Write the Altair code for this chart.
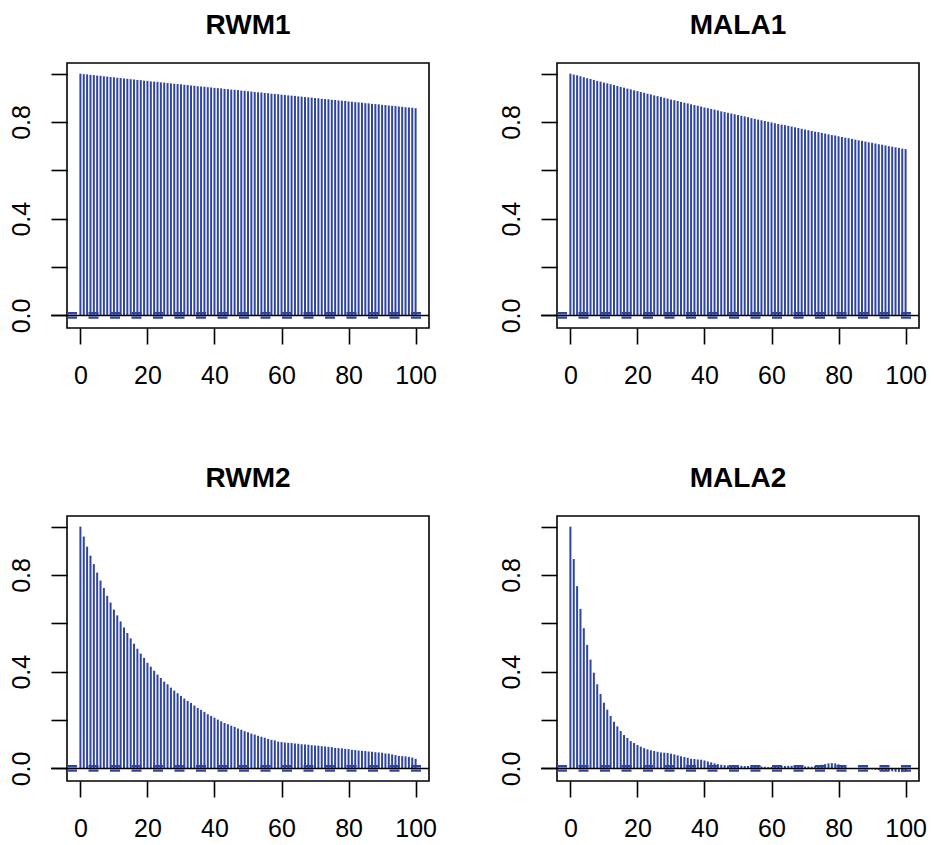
import altair as alt
import pandas as pd

# ---------------- data ----------------
lags = list(range(101))

rwm1 = [1.000, 0.998, 0.997, 0.995, 0.994, 0.992, 0.991, 0.989, 0.988, 0.986,
        0.985, 0.983, 0.982, 0.980, 0.979, 0.977, 0.976, 0.974, 0.973, 0.971,
        0.970, 0.968, 0.967, 0.966, 0.964, 0.963, 0.961, 0.960, 0.958, 0.957,
        0.956, 0.954, 0.953, 0.951, 0.950, 0.948, 0.947, 0.946, 0.944, 0.943,
        0.941, 0.940, 0.939, 0.937, 0.936, 0.934, 0.933, 0.932, 0.930, 0.929,
        0.927, 0.926, 0.924, 0.923, 0.922, 0.920, 0.919, 0.917, 0.916, 0.915,
        0.913, 0.912, 0.910, 0.909, 0.908, 0.906, 0.905, 0.903, 0.902, 0.901,
        0.899, 0.898, 0.896, 0.895, 0.894, 0.892, 0.891, 0.889, 0.888, 0.887,
        0.885, 0.884, 0.882, 0.881, 0.880, 0.878, 0.877, 0.875, 0.874, 0.873,
        0.871, 0.870, 0.868, 0.867, 0.866, 0.864, 0.863, 0.861, 0.860, 0.859,
        0.857]

mala1 = [1.000, 0.996, 0.993, 0.989, 0.985, 0.981, 0.978, 0.974, 0.970, 0.967,
         0.963, 0.960, 0.956, 0.953, 0.949, 0.945, 0.942, 0.938, 0.935, 0.931,
         0.928, 0.924, 0.921, 0.917, 0.914, 0.910, 0.907, 0.904, 0.900, 0.897,
         0.893, 0.890, 0.887, 0.883, 0.880, 0.877, 0.873, 0.870, 0.867, 0.864,
         0.860, 0.857, 0.854, 0.851, 0.848, 0.844, 0.841, 0.838, 0.835, 0.832,
         0.829, 0.826, 0.823, 0.820, 0.816, 0.813, 0.810, 0.807, 0.804, 0.801,
         0.798, 0.795, 0.792, 0.789, 0.787, 0.784, 0.781, 0.778, 0.775, 0.772,
         0.769, 0.766, 0.763, 0.760, 0.758, 0.755, 0.752, 0.749, 0.746, 0.744,
         0.741, 0.738, 0.735, 0.733, 0.730, 0.727, 0.724, 0.722, 0.719, 0.716,
         0.714, 0.711, 0.708, 0.706, 0.703, 0.700, 0.698, 0.695, 0.693, 0.690,
         0.688]

rwm2 = [1.000, 0.959, 0.917, 0.880, 0.845, 0.810, 0.777, 0.746, 0.714, 0.686,
        0.657, 0.633, 0.608, 0.583, 0.560, 0.538, 0.516, 0.495, 0.475, 0.457,
        0.437, 0.421, 0.404, 0.388, 0.374, 0.359, 0.348, 0.334, 0.322, 0.311,
        0.300, 0.289, 0.279, 0.271, 0.260, 0.250, 0.242, 0.234, 0.224, 0.217,
        0.210, 0.202, 0.195, 0.188, 0.183, 0.177, 0.172, 0.165, 0.160, 0.154,
        0.150, 0.144, 0.140, 0.135, 0.131, 0.127, 0.122, 0.118, 0.116, 0.111,
        0.109, 0.107, 0.106, 0.105, 0.103, 0.102, 0.100, 0.099, 0.098, 0.096,
        0.095, 0.094, 0.092, 0.091, 0.089, 0.088, 0.085, 0.084, 0.083, 0.081,
        0.080, 0.077, 0.076, 0.074, 0.073, 0.072, 0.070, 0.069, 0.067, 0.066,
        0.065, 0.062, 0.061, 0.058, 0.055, 0.052, 0.051, 0.050, 0.048, 0.045,
        0.040]

mala2 = [1.000, 0.866, 0.754, 0.660, 0.580, 0.511, 0.450, 0.396, 0.348, 0.308,
         0.272, 0.243, 0.217, 0.193, 0.174, 0.155, 0.138, 0.126, 0.113, 0.105,
         0.097, 0.090, 0.084, 0.079, 0.075, 0.072, 0.069, 0.066, 0.065, 0.064,
         0.061, 0.058, 0.054, 0.050, 0.047, 0.044, 0.040, 0.039, 0.037, 0.036,
         0.033, 0.029, 0.025, 0.021, 0.018, 0.015, 0.014, 0.012, 0.012, 0.014,
         0.012, 0.011, 0.010, 0.010, 0.011, 0.011, 0.010, 0.008, 0.007, 0.006,
         0.006, 0.007, 0.008, 0.010, 0.010, 0.011, 0.011, 0.011, 0.010, 0.010,
         0.008, 0.008, 0.007, 0.010, 0.012, 0.015, 0.018, 0.021, 0.022, 0.021,
         0.017, 0.011, 0.006, 0.001, 0.000, -0.001, -0.003, -0.003, -0.004, -0.004,
         -0.004, -0.006, -0.007, -0.007, -0.008, -0.009, -0.012, -0.014, -0.015, -0.015,
         -0.014]

titles = ["RWM1", "MALA1", "RWM2", "MALA2"]
ci_bound = 0.009
x_ticks = [0, 20, 40, 60, 80, 100]
y_ticks = [0.0, 0.2, 0.4, 0.6, 0.8, 1.0]

# ---------------- styling ----------------
W, H = 362, 265
BLUE = "#2F45A0"
FONT = "Liberation Sans"


def panel(title, vals):
    df = pd.DataFrame({"lag": lags, "acf": vals})
    xs = alt.Scale(domain=[-4, 104], nice=False, zero=False)
    ys = alt.Scale(domain=[-0.052, 1.044], nice=False, zero=False)
    xax = alt.Axis(values=x_ticks, title=None, grid=False, domain=False,
                   tickSize=16, labelPadding=19, labelFlush=False,
                   labelOverlap=False)
    yax = alt.Axis(values=y_ticks, title=None, grid=False, domain=False,
                   tickSize=16, labelAngle=270, labelAlign="center",
                   labelBaseline="alphabetic", labelPadding=22,
                   labelFlush=False, labelOverlap=False,
                   labelExpr="(round(datum.value*10) % 4 == 0) ? format(datum.value, '.1f') : ''")

    bars = alt.Chart(df).mark_rule(color=BLUE, strokeWidth=2).encode(
        x=alt.X("lag:Q", scale=xs, axis=xax),
        y=alt.Y("acf:Q", scale=ys, axis=yax),
        y2=alt.datum(0),
    )
    ci_df = pd.DataFrame({"ci": [ci_bound, -ci_bound]})
    ci_lines = alt.Chart(ci_df).mark_rule(color=BLUE, strokeWidth=2.4,
                                          strokeDash=[10, 11.5]).encode(
        y=alt.Y("ci:Q", scale=ys),
        x=alt.value(0), x2=alt.value(W),
    )
    zero = alt.Chart(pd.DataFrame({"z": [0]})).mark_rule(
        color="black", strokeWidth=1.6).encode(
        y=alt.Y("z:Q", scale=ys),
        x=alt.value(-16), x2=alt.value(W),
    )
    return alt.layer(bars, ci_lines, zero).properties(
        width=W, height=H, title=title)


panels = [panel(t, v) for t, v in zip(titles, [rwm1, mala1, rwm2, mala2])]

chart = alt.concat(
    *panels, columns=2, spacing=alt.RowColnumber(row=188, column=128),
    bounds="flush",
).properties(
    padding={"left": 0, "top": 3, "right": 0, "bottom": 0},
    background="white",
).configure_view(
    stroke="black", strokeWidth=1.6
).configure_axis(
    labelFont=FONT, labelFontSize=25, labelColor="black",
    tickColor="black", tickWidth=1.6,
).configure_title(
    font=FONT, fontSize=28, fontWeight="bold", color="black",
    anchor="middle", baseline="alphabetic", offset=23,
)

chart.save("out.html", embed_options={"renderer": "svg", "actions": False})
